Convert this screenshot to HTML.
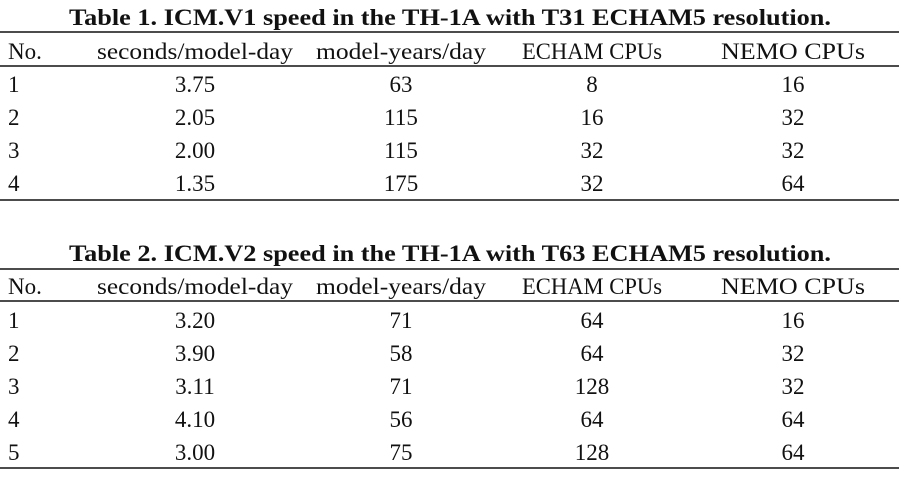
<!DOCTYPE html>
<html><head><meta charset="utf-8"><style>
body{margin:0;background:#fff}
svg{display:block;font-family:"Liberation Serif",serif;fill:#111}
.t{font-weight:bold;font-size:23px}
.h,.c{font-size:23px}
</style></head><body>
<svg width="906" height="480">
<g>
<text class="t" x="450" y="25" text-anchor="middle" textLength="762" lengthAdjust="spacingAndGlyphs">Table 1. ICM.V1 speed in the TH-1A with T31 ECHAM5 resolution.</text>
<line x1="0" y1="32" x2="899" y2="32" stroke="#111" stroke-width="1.5"/>
<line x1="0" y1="66" x2="899" y2="66" stroke="#111" stroke-width="1.5"/>
<line x1="0" y1="200" x2="899" y2="200" stroke="#111" stroke-width="1.5"/>
</g>
<g>
<text class="t" x="450" y="261" text-anchor="middle" textLength="762" lengthAdjust="spacingAndGlyphs">Table 2. ICM.V2 speed in the TH-1A with T63 ECHAM5 resolution.</text>
<line x1="0" y1="269" x2="899" y2="269" stroke="#111" stroke-width="1.5"/>
<line x1="0" y1="301" x2="899" y2="301" stroke="#111" stroke-width="1.5"/>
<line x1="0" y1="468" x2="899" y2="468" stroke="#111" stroke-width="1.5"/>
</g>
</svg>
<script>
const headers=["No.","seconds/model-day","model-years/day","ECHAM CPUs","NEMO CPUs"];
const t1Rows=[["1","3.75","63","8","16"],["2","2.05","115","16","32"],["3","2.00","115","32","32"],["4","1.35","175","32","64"]];
const t2Rows=[["1","3.20","71","64","16"],["2","3.90","58","64","32"],["3","3.11","71","128","32"],["4","4.10","56","64","64"],["5","3.00","75","128","64"]];
const colX=[8,195,401,592,793];
const hdrW=[null,196,170,140,144];
const svg=document.querySelector('svg');
const NS="http://www.w3.org/2000/svg";
function txt(s,x,y,anchor,w){const t=document.createElementNS(NS,'text');t.textContent=s;t.setAttribute('x',x);t.setAttribute('y',y);t.setAttribute('class','c');if(anchor)t.setAttribute('text-anchor',anchor);if(w){t.setAttribute('textLength',w);t.setAttribute('lengthAdjust','spacingAndGlyphs');}svg.appendChild(t);return t;}
function table(rows,hy,ry0,name){
 headers.forEach((h,i)=>{const t=txt(h,colX[i],hy,i?'middle':null,hdrW[i]);
 
 });
 rows.forEach((r,ri)=>r.forEach((v,ci)=>{const t=txt(v,colX[ci],ry0+ri*33,ci?'middle':null);
 
 }));
}
table(t1Rows,59,92,'table-1');
table(t2Rows,294,328,'table-2');
</script>
</body></html>
